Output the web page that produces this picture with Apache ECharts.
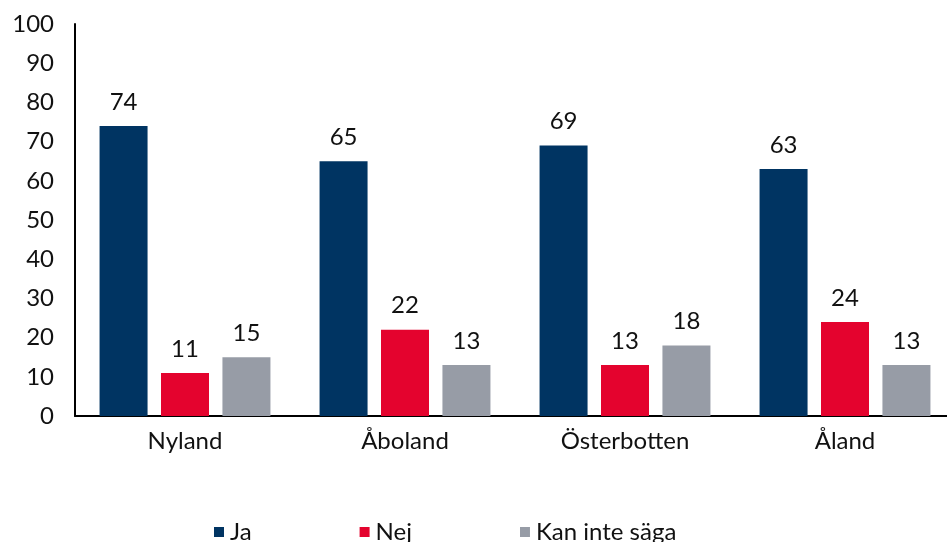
<!DOCTYPE html>
<html>
<head>
<meta charset="utf-8">
<script src="https://cdn.jsdelivr.net/npm/echarts@6/dist/echarts.min.js"></script>
<style>
html, body { margin: 0; padding: 0; background: #fff; overflow: hidden; }
#grafico { width: 960px; height: 542px; }
</style>
</head>
<body>
<div id="grafico"></div>
<script>
var regioner = ['Nyland', 'Åboland', 'Österbotten', 'Åland'];
var serie_namn = ['Ja', 'Nej', 'Kan inte säga'];
var data_ja = [74, 65, 69, 63];
var data_nej = [11, 22, 13, 24];
var data_kan = [15, 13, 18, 13];
var y_etiketter = [0, 10, 20, 30, 40, 50, 60, 70, 80, 90, 100];

var farger = ['#003462', '#E4032E', '#979CA6'];
var font = 'Lato';

var myChart = echarts.init(document.getElementById('grafico'));

function serie(namn, data, farg) {
    return {
        name: namn,
        type: 'bar',
        barWidth: 48,
        barGap: '28%',
        data: data,
        itemStyle: { color: farg },
        label: {
            show: true,
            position: 'top',
            distance: 12,
            color: '#111',
            fontFamily: font,
            fontSize: 24
        }
    };
}

var option = {
    animation: false,
    textStyle: { fontFamily: font },
    legend: {
        data: serie_namn,
        left: 209,
        top: 515,
        icon: 'rect',
        itemWidth: 10,
        itemHeight: 10,
        itemGap: 108,
        textStyle: { color: '#111', fontSize: 24, fontFamily: font, padding: [0, 0, 0, 1] }
    },
    grid: {
        left: 75,
        top: 24,
        width: 880,
        height: 392,
        containLabel: false
    },
    xAxis: {
        type: 'category',
        data: regioner,
        axisLine: { lineStyle: { color: '#000', width: 2 } },
        axisTick: { show: false },
        axisLabel: { color: '#111', fontSize: 24, fontFamily: font, margin: 13 }
    },
    yAxis: {
        type: 'value',
        min: y_etiketter[0],
        max: y_etiketter[y_etiketter.length - 1],
        interval: 10,
        axisLine: { show: true, lineStyle: { color: '#000', width: 2 } },
        axisTick: { show: false },
        splitLine: { show: false },
        axisLabel: { color: '#111', fontSize: 24, fontFamily: font, margin: 21 }
    },
    series: [
        serie(serie_namn[0], data_ja, farger[0]),
        serie(serie_namn[1], data_nej, farger[1]),
        serie(serie_namn[2], data_kan, farger[2])
    ]
};

myChart.setOption(option);
</script>
</body>
</html>
